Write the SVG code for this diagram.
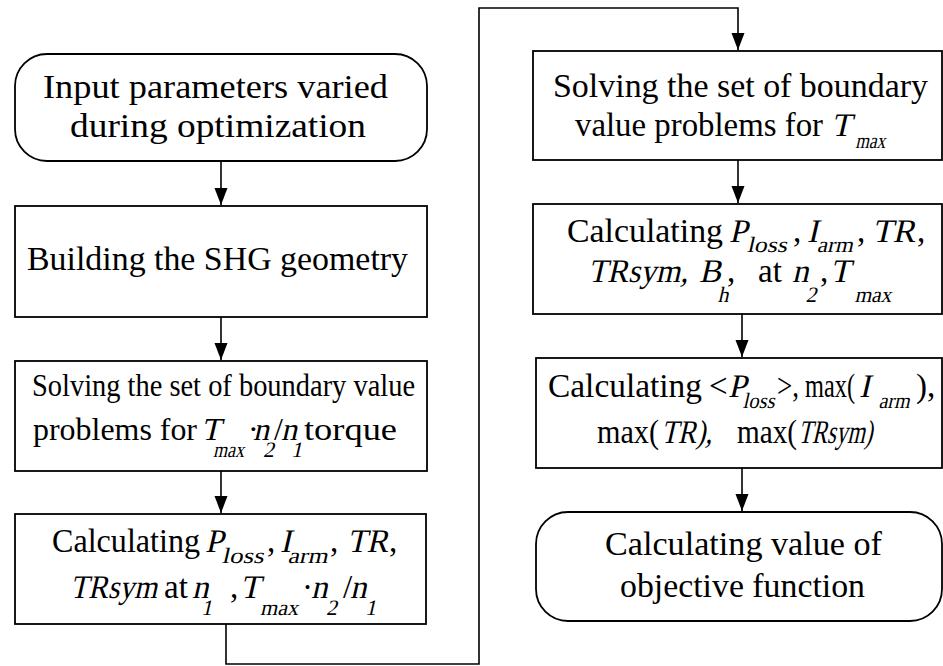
<svg xmlns="http://www.w3.org/2000/svg" width="943" height="666" viewBox="0 0 943 666">
<defs>
<marker id="ah" markerUnits="userSpaceOnUse" markerWidth="14" markerHeight="18" viewBox="0 0 14 18" refX="7" refY="17" orient="0">
<path d="M0.5,0 L13.5,0 L7,17 Z" fill="#000"/>
</marker>
<style>
.box{fill:#fff;stroke:#000;stroke-width:1.8}
.ln{fill:none;stroke:#000;stroke-width:1.6}
text{font-family:"Liberation Serif","Times New Roman",serif;font-size:33px;fill:#000}
.s{font-size:22px}
.c{font-size:32px}
</style>
</defs>
<g id="connectors">
<path class="ln" d="M221,161 V205" marker-end="url(#ah)"/>
<path class="ln" d="M221,317 V360" marker-end="url(#ah)"/>
<path class="ln" d="M221,471 V513" marker-end="url(#ah)"/>
<path class="ln" d="M226,624 V664 H479 V8 H738 V50" marker-end="url(#ah)"/>
<path class="ln" d="M738,160 V203" marker-end="url(#ah)"/>
<path class="ln" d="M742,314 V357" marker-end="url(#ah)"/>
<path class="ln" d="M742,468 V511" marker-end="url(#ah)"/>
</g>
<g id="n1">
<rect class="box" x="15" y="54" width="412" height="107" rx="32"/>
<text x="43" y="98" textLength="345" lengthAdjust="spacingAndGlyphs">Input parameters varied</text>
<text x="70" y="137" textLength="296" lengthAdjust="spacingAndGlyphs">during optimization</text>
</g>
<g id="n2">
<rect class="box" x="15" y="206" width="412" height="111"/>
<text x="27" y="270" textLength="381" lengthAdjust="spacingAndGlyphs">Building the SHG geometry</text>
</g>
<g id="n3">
<rect class="box" x="15" y="361" width="412" height="110"/>
<text class="c" x="32" y="396" textLength="383" lengthAdjust="spacingAndGlyphs">Solving the set of boundary value</text>
<text class="c" y="440"><tspan x="33" textLength="164" lengthAdjust="spacingAndGlyphs">problems for</tspan><tspan x="248">·</tspan><tspan x="274">/</tspan><tspan x="304" textLength="93" lengthAdjust="spacingAndGlyphs">torque</tspan></text>
<text class="c" transform="translate(201,440) skewX(-13)">T<tspan class="s" x="16" y="17" font-size="19" textLength="31" lengthAdjust="spacingAndGlyphs">max</tspan></text>
<text class="c" transform="translate(253,440) skewX(-13)">n<tspan class="s" x="14" y="17" font-size="19">2</tspan></text>
<text class="c" transform="translate(281,440) skewX(-13)">n<tspan class="s" x="14" y="17" font-size="19">1</tspan></text>
</g>
<g id="n4">
<rect class="box" x="15" y="514" width="411" height="110"/>
<text y="552"><tspan x="52" textLength="148" lengthAdjust="spacingAndGlyphs">Calculating</tspan><tspan x="267">,</tspan><tspan x="330">,</tspan><tspan x="389">,</tspan></text>
<text transform="translate(205,552) skewX(-13)">P<tspan class="s" x="19" y="11" textLength="42" lengthAdjust="spacingAndGlyphs">loss</tspan></text>
<text transform="translate(280,552) skewX(-13)">I<tspan class="s" x="10" y="11" textLength="40" lengthAdjust="spacingAndGlyphs">arm</tspan></text>
<text transform="translate(347,552) skewX(-13)" textLength="41" lengthAdjust="spacingAndGlyphs">TR</text>
<text y="598"><tspan x="164">at</tspan><tspan x="230">,</tspan><tspan x="302">·</tspan><tspan x="343">/</tspan></text>
<text transform="translate(70,598) skewX(-13)" textLength="87" lengthAdjust="spacingAndGlyphs">TRsym</text>
<text transform="translate(192,598) skewX(-13)">n<tspan class="s" x="13" y="17">1</tspan></text>
<text transform="translate(240,598) skewX(-13)">T<tspan class="s" x="24" y="17" textLength="38" lengthAdjust="spacingAndGlyphs">max</tspan></text>
<text transform="translate(311,598) skewX(-13)">n<tspan class="s" x="19" y="17">2</tspan></text>
<text transform="translate(350,598) skewX(-13)">n<tspan class="s" x="19" y="17">1</tspan></text>
</g>
<g id="n5">
<rect class="box" x="533" y="51" width="409" height="109"/>
<text x="553" y="97" textLength="375" lengthAdjust="spacingAndGlyphs">Solving the set of boundary</text>
<text x="575" y="136" textLength="248" lengthAdjust="spacingAndGlyphs">value problems for</text>
<text transform="translate(831,136) skewX(-13)">T<tspan class="s" x="27" y="12" textLength="30" lengthAdjust="spacingAndGlyphs">max</tspan></text>
</g>
<g id="n6">
<rect class="box" x="533" y="204" width="409" height="110"/>
<text y="242"><tspan x="567" textLength="156" lengthAdjust="spacingAndGlyphs">Calculating</tspan><tspan x="793">,</tspan><tspan x="857">,</tspan><tspan x="917">,</tspan></text>
<text transform="translate(729,242) skewX(-13)">P<tspan class="s" x="20" y="10" textLength="40" lengthAdjust="spacingAndGlyphs">loss</tspan></text>
<text transform="translate(807,242) skewX(-13)">I<tspan class="s" x="12" y="10" textLength="36" lengthAdjust="spacingAndGlyphs">arm</tspan></text>
<text transform="translate(872,242) skewX(-13)" textLength="43" lengthAdjust="spacingAndGlyphs">TR</text>
<text y="282"><tspan x="727">,</tspan><tspan x="758">at</tspan><tspan x="820">,</tspan></text>
<text transform="translate(588,282) skewX(-13)" textLength="100" lengthAdjust="spacingAndGlyphs">TRsym,</text>
<text transform="translate(699,282) skewX(-13)">B<tspan class="s" x="23" y="20">h</tspan></text>
<text transform="translate(792,282) skewX(-13)">n<tspan class="s" x="18" y="20">2</tspan></text>
<text transform="translate(830,282) skewX(-13)">T<tspan class="s" x="29" y="20" textLength="37" lengthAdjust="spacingAndGlyphs">max</tspan></text>
</g>
<g id="n7">
<rect class="box" x="536" y="358" width="406" height="110"/>
<text y="397"><tspan x="548" textLength="154" lengthAdjust="spacingAndGlyphs">Calculating</tspan><tspan x="709">&lt;</tspan><tspan x="777" textLength="22" lengthAdjust="spacingAndGlyphs">&gt;,</tspan><tspan x="805" textLength="50" lengthAdjust="spacingAndGlyphs">max(</tspan><tspan x="916">),</tspan></text>
<text transform="translate(728,397) skewX(-13)">P<tspan class="s" x="17" y="11" textLength="32" lengthAdjust="spacingAndGlyphs">loss</tspan></text>
<text transform="translate(859,397) skewX(-13)">I<tspan class="s" x="22" y="11" textLength="31" lengthAdjust="spacingAndGlyphs">arm</tspan></text>
<text y="443"><tspan x="597" textLength="62" lengthAdjust="spacingAndGlyphs">max(</tspan><tspan x="737" textLength="60" lengthAdjust="spacingAndGlyphs">max(</tspan></text>
<text transform="translate(661,443) skewX(-13)" textLength="51" lengthAdjust="spacingAndGlyphs">TR),</text>
<text transform="translate(798,443) skewX(-13)" textLength="74" lengthAdjust="spacingAndGlyphs">TRsym)</text>
</g>
<g id="n8">
<rect class="box" x="536" y="512" width="406" height="109" rx="32"/>
<text x="605" y="555" textLength="277" lengthAdjust="spacingAndGlyphs">Calculating value of</text>
<text x="620" y="597" textLength="245" lengthAdjust="spacingAndGlyphs">objective function</text>
</g>
</svg>
